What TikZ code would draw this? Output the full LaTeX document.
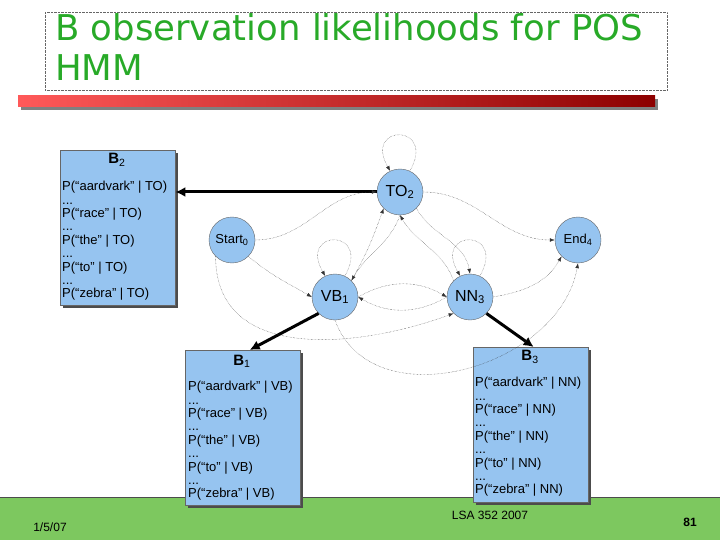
\documentclass[tikz,border=0pt]{standalone}
\usepackage{fontspec}
\setmainfont{Liberation Sans}
\newfontfamily\titlefont{DejaVu Sans}
\usetikzlibrary{arrows.meta,shadows}
\definecolor{nodeblue}{RGB}{150,196,240}
\definecolor{titlegreen}{RGB}{40,170,40}
\definecolor{footgreen}{RGB}{125,200,95}
\newcommand{\subx}[1]{$_{\mathrm{#1}}$}
\tikzset{
 st/.style={circle,draw=black!60,fill=nodeblue,minimum size=46pt,inner sep=0pt,font=\fontsize{16}{16}\selectfont},
 bbox/.style={draw=black!60,fill=nodeblue,drop shadow={shadow xshift=3pt,shadow yshift=-3pt,fill=black!70,opacity=1},minimum width=115pt,minimum height=155pt,anchor=north west,inner sep=0pt},
 btxt/.style={font=\fontsize{13}{13.4}\selectfont,align=left,anchor=north west,inner sep=0pt},
 dt/.style={densely dotted,black!80,-{Latex[length=5pt]}},
 thick arr/.style={line width=3pt,-{Latex[length=10pt,width=10pt]}},
}
\begin{document}
\begin{tikzpicture}[x=1pt,y=-1pt]
\path[use as bounding box] (0,0) rectangle (720,540);
% title
\node[draw=black!60,densely dotted,minimum width=622pt,minimum height=78pt,anchor=north west,inner sep=0pt] (title) at (45,12) {};
\node[anchor=north west,text=titlegreen,font=\titlefont\fontsize{35.5}{40}\selectfont,align=left,inner sep=0pt] (tt) at (55,13) {B observation likelihoods for POS\\HMM};
% red bar
\fill[black!50] (21,99) rectangle (658,110);
\shade[left color=red!65,right color=red!55!black] (18,96) rectangle (655,107);
% footer
\fill[footgreen] (0,497) rectangle (720,540);
\draw[black!70] (0,497) -- (720,497);
\node[font=\fontsize{12}{12}\selectfont] (date) at (50,527) {1/5/07};
\node[font=\fontsize{12}{12}\selectfont] (lsa) at (490,515) {LSA 352 2007};
\node[font=\bfseries\fontsize{12}{12}\selectfont] (pg) at (690,522) {81};
% boxes
\node[bbox] (b2) at (60,150) {};
\node[font=\bfseries\fontsize{15}{15}\selectfont] at (117,160) {B\subx{2}};
\node[btxt] at (62,181) {P(“aardvark” | TO)\\...\\P(“race” | TO)\\...\\P(“the” | TO)\\...\\P(“to” | TO)\\...\\P(“zebra” | TO)};
\node[bbox] (b1) at (185,350) {};
\node[font=\bfseries\fontsize{15}{15}\selectfont] at (242,361) {B\subx{1}};
\node[btxt] at (188,381) {P(“aardvark” | VB)\\...\\P(“race” | VB)\\...\\P(“the” | VB)\\...\\P(“to” | VB)\\...\\P(“zebra” | VB)};
\node[bbox] (b3) at (473,347) {};
\node[font=\bfseries\fontsize{15}{15}\selectfont] at (530,357) {B\subx{3}};
\node[btxt] at (475,377) {P(“aardvark” | NN)\\...\\P(“race” | NN)\\...\\P(“the” | NN)\\...\\P(“to” | NN)\\...\\P(“zebra” | NN)};
% states
\node[st] (to) at (400,192) {TO\subx{2}};
\node[st,font=\fontsize{13}{13}\selectfont] (start) at (232,240) {Start\subx{0}};
\node[st,font=\fontsize{13}{13}\selectfont] (end) at (578,240) {End\subx{4}};
\node[st] (vb) at (335,297) {VB\subx{1}};
\node[st] (nn) at (470,297) {NN\subx{3}};
% thick arrows
\draw[thick arr] (to.west) -- (b2.east |- to.west);
\draw[thick arr] (vb.south west) -- ([xshift=7pt]b1.north);
\draw[thick arr] (nn.south east) -- ([xshift=3pt]b3.north);
% dotted transitions
\draw[dt] (start.east) to[out=0,in=180] (to.west);
\draw[dt] (start.south east) to[out=-40,in=150] (vb.west);
\draw[dt] (start.south west) to[out=-90,in=200,looseness=1.1] (nn.south west);
\draw[dt] (to.east) to[out=0,in=180] (end.west);
\draw[dt] (nn.east) to[out=10,in=240] (end.south west);
\draw[dt] (vb.south) to[out=-70,in=-100,looseness=1.1] (end.south);
\draw[dt] (vb.north east) to[out=60,in=-110] (to.south west);
\draw[dt] (to.south) to[out=-110,in=60] (vb.north east);
\draw[dt] (nn.north west) to[out=110,in=-60] (to.south);
\draw[dt] (to.south east) to[out=-60,in=100] (nn.north);
\draw[dt] (vb.east) to[out=30,in=150] (nn.west);
\draw[dt] (nn.west) to[out=-150,in=-30] (vb.east);
\draw[dt] (to.65) .. controls +(-60:55) and +(-120:55) .. (to.115);
\draw[dt] (vb.65) .. controls +(-60:55) and +(-120:55) .. (vb.115);
\draw[dt] (nn.65) .. controls +(-60:55) and +(-120:55) .. (nn.115);
\end{tikzpicture}
\end{document}
